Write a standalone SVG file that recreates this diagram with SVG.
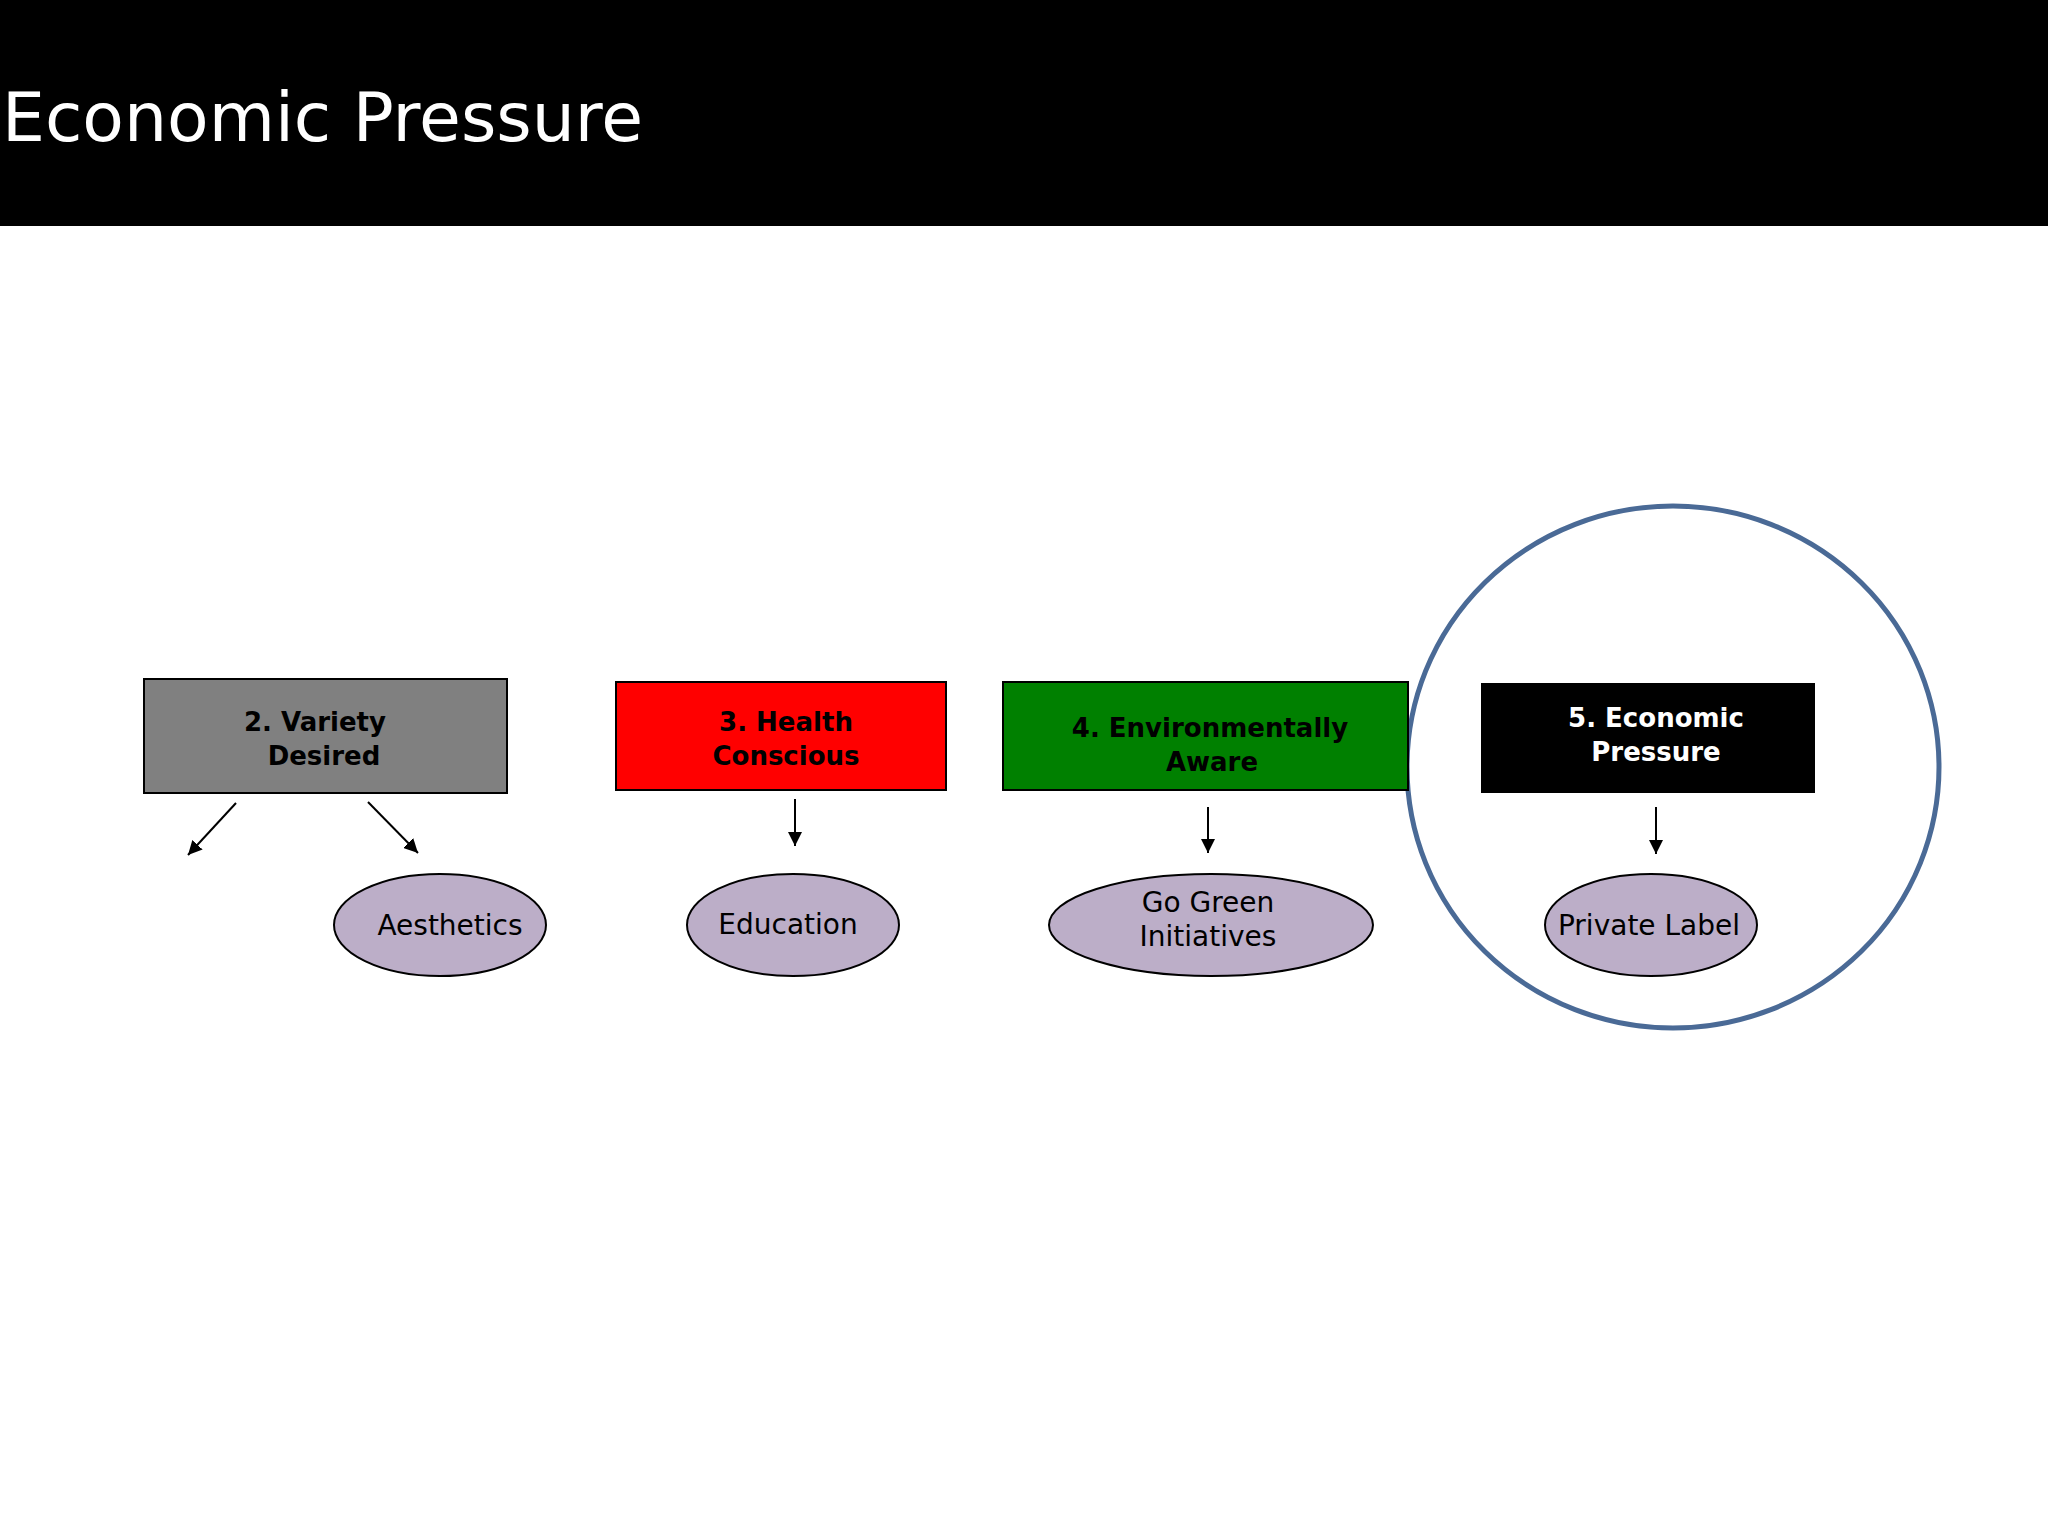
<svg xmlns="http://www.w3.org/2000/svg" width="2048" height="1536" viewBox="0 0 2048 1536">
<style>
.bt{font-family:"DejaVu Sans",Verdana,sans-serif;font-weight:bold;font-size:26px;text-anchor:middle}
.et{font-family:"DejaVu Sans",Verdana,sans-serif;font-size:28px;text-anchor:middle;fill:#000}
.el{fill:#bcaec8;stroke:#000;stroke-width:2}
.cn{stroke:#000;stroke-width:2;fill:none;marker-end:url(#ah)}
</style>
<defs><marker id="ah" viewBox="0 0 10 10" refX="10" refY="5" markerWidth="7" markerHeight="7" orient="auto"><path d="M0,0L10,5L0,10z" fill="#000"/></marker></defs>
<rect width="2048" height="1536" fill="#fff"/>
<rect width="2048" height="226" fill="#000"/>
<text x="2" y="141" font-family="DejaVu Sans,Verdana,sans-serif" font-size="68" fill="#fff">Economic Pressure</text>
<ellipse cx="1673" cy="767" rx="266" ry="261" fill="#fff" stroke="#4a6a96" stroke-width="5"/>
<g id="n2"><rect x="144" y="679" width="363" height="114" fill="#808080" stroke="#000" stroke-width="2"/><text class="bt" x="315" y="731">2. Variety</text><text class="bt" x="324" y="765">Desired</text></g>
<g id="n3"><rect x="616" y="682" width="330" height="108" fill="#ff0000" stroke="#000" stroke-width="2"/><text class="bt" x="786" y="731">3. Health</text><text class="bt" x="786" y="765">Conscious</text></g>
<g id="n4"><rect x="1003" y="682" width="405" height="108" fill="#008000" stroke="#000" stroke-width="2"/><text class="bt" x="1210" y="737">4. Environmentally</text><text class="bt" x="1212" y="771">Aware</text></g>
<g id="n5"><rect x="1482" y="684" width="332" height="108" fill="#000" stroke="#000" stroke-width="2"/><text class="bt" x="1656" y="727" fill="#fff">5. Economic</text><text class="bt" x="1656" y="761" fill="#fff">Pressure</text></g>
<g id="e1"><ellipse class="el" cx="440" cy="925" rx="106" ry="51"/><text class="et" x="450" y="935">Aesthetics</text></g>
<g id="e2"><ellipse class="el" cx="793" cy="925" rx="106" ry="51"/><text class="et" x="788" y="934">Education</text></g>
<g id="e3"><ellipse class="el" cx="1211" cy="925" rx="162" ry="51"/><text class="et" x="1208" y="912">Go Green</text><text class="et" x="1208" y="946">Initiatives</text></g>
<g id="e4"><ellipse class="el" cx="1651" cy="925" rx="106" ry="51"/><text class="et" x="1649" y="935">Private Label</text></g>
<g id="connectors">
<line class="cn" x1="236" y1="803" x2="188" y2="855"/>
<line class="cn" x1="368" y1="802" x2="418" y2="853"/>
<line class="cn" x1="795" y1="799" x2="795" y2="846"/>
<line class="cn" x1="1208" y1="807" x2="1208" y2="853"/>
<line class="cn" x1="1656" y1="807" x2="1656" y2="854"/>
</g>
</svg>
